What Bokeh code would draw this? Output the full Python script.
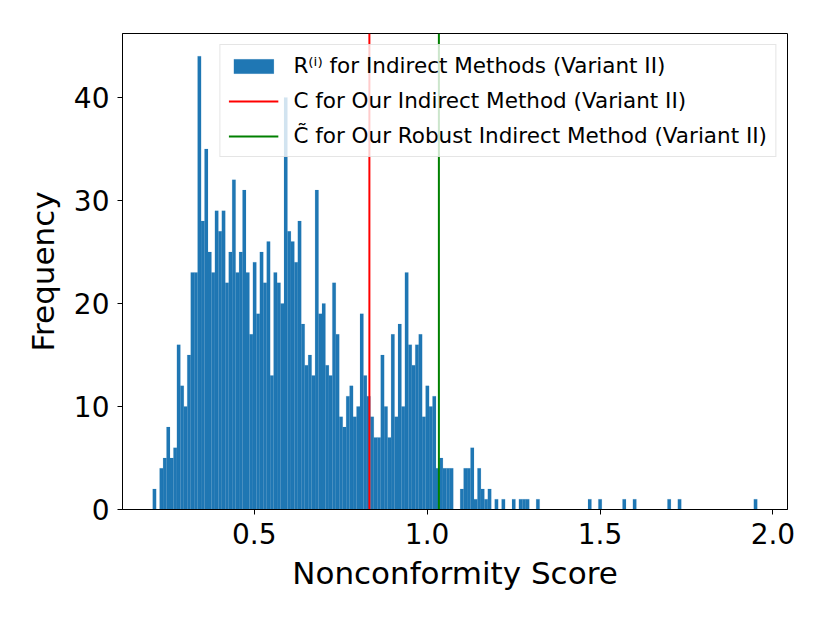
import numpy as np
from bokeh.plotting import figure
from bokeh.models import Legend, LegendItem, Range1d, FixedTicker, PrintfTickFormatter
from bokeh.embed import file_html
from bokeh.resources import INLINE

# Histogram of nonconformity scores (175 bins between data min and max)
score_min = 0.2064
score_max = 1.9548
counts = [
    2, 0, 4, 5, 8, 5, 6, 16, 12, 10, 15, 23, 23, 44, 28, 35, 25, 23, 29, 27,
    29, 22, 25, 32, 23, 25, 31, 23, 17, 24, 19, 25, 22, 26, 13, 23, 22, 20, 40, 27,
    26, 24, 28, 18, 14, 15, 13, 31, 19, 20, 14, 13, 22, 17, 9, 8, 11, 12, 9, 10,
    19, 13, 11, 9, 7, 7, 15, 10, 7, 17, 9, 18, 10, 23, 16, 14, 16, 17, 9, 12,
    10, 11, 4, 5, 4, 4, 4, 0, 0, 2, 4, 4, 6, 1, 4, 2, 1, 2, 0, 1,
    0, 1, 0, 0, 1, 0, 1, 1, 1, 0, 0, 1, 0, 0, 0, 0, 0, 0, 0, 0,
    0, 0, 0, 0, 0, 0, 1, 0, 0, 1, 0, 0, 0, 0, 0, 0, 1, 0, 0, 1,
    0, 0, 0, 0, 0, 0, 0, 0, 0, 1, 0, 0, 1, 0, 0, 0, 0, 0, 0, 0,
    0, 0, 0, 0, 0, 0, 0, 0, 0, 0, 0, 0, 0, 0, 1,
]
C_value = 0.833        # C for Our Indirect Method (Variant II)
C_tilde_value = 1.034  # C-tilde for Our Robust Indirect Method (Variant II)

x_ticks = [0.5, 1.0, 1.5, 2.0]
y_ticks = [0, 10, 20, 30, 40]
labels = [
    "R\u207d\u2071\u207e for Indirect Methods (Variant II)",
    "C for Our Indirect Method (Variant II)",
    "C\u0303 for Our Robust Indirect Method (Variant II)",
]

edges = np.linspace(score_min, score_max, len(counts) + 1)
counts_arr = np.array(counts, dtype=float)
ymax = counts_arr.max() * 1.05
span = score_max - score_min
x_lo = score_min - 0.05 * span
x_hi = score_max + 0.05 * span

FONT = "DejaVu Sans"

p = figure(frame_width=665, frame_height=476,
           min_border_left=122, min_border_right=27,
           min_border_top=33, min_border_bottom=98,
           x_range=Range1d(x_lo, x_hi), y_range=Range1d(0, ymax),
           output_backend="svg", toolbar_location=None)

mask = counts_arr > 0
bars = p.quad(left=edges[:-1][mask], right=edges[1:][mask], bottom=0, top=counts_arr[mask],
              fill_color="#1f77b4", line_color="#1f77b4", line_width=0.3, line_alpha=0.4)
red = p.segment(x0=[C_value], y0=[0], x1=[C_value], y1=[ymax], line_color="red", line_width=2)
green = p.segment(x0=[C_tilde_value], y0=[0], x1=[C_tilde_value], y1=[ymax],
                  line_color="green", line_width=2)

p.xgrid.visible = False
p.ygrid.visible = False
p.outline_line_color = "black"
p.outline_line_width = 1
p.background_fill_color = "white"
p.border_fill_color = "white"

for ax in (p.xaxis[0], p.yaxis[0]):
    ax.major_label_text_font = FONT
    ax.major_label_text_font_size = "28px"
    ax.major_label_text_color = "black"
    ax.axis_label_text_font = FONT
    ax.axis_label_text_font_size = "31px"
    ax.axis_label_text_font_style = "normal"
    ax.axis_label_text_color = "black"
    ax.minor_tick_line_color = None
    ax.major_tick_in = 0
    ax.major_tick_out = 5
    ax.axis_line_color = "black"
    ax.major_tick_line_color = "black"

p.xaxis.ticker = FixedTicker(ticks=x_ticks)
p.yaxis.ticker = FixedTicker(ticks=y_ticks)
p.xaxis.formatter = PrintfTickFormatter(format="%.1f")
p.xaxis.axis_label = "Nonconformity Score"
p.yaxis.axis_label = "Frequency"
p.xaxis.major_label_standoff = 8
p.yaxis.major_label_standoff = 8
p.xaxis.axis_label_standoff = 8
p.yaxis.axis_label_standoff = 10

legend = Legend(items=[LegendItem(label=labels[0], renderers=[bars]),
                       LegendItem(label=labels[1], renderers=[red]),
                       LegendItem(label=labels[2], renderers=[green])],
                location="top_right", margin=11, padding=8, spacing=10,
                glyph_width=50, glyph_height=18, label_height=25, label_standoff=15,
                label_text_font=FONT, label_text_font_size="21.5px",
                label_text_color="black",
                border_line_color="#cccccc", border_line_width=1.5,
                background_fill_color="white", background_fill_alpha=0.8)
p.add_layout(legend)

open("out.html", "w").write(file_html(p, INLINE))
